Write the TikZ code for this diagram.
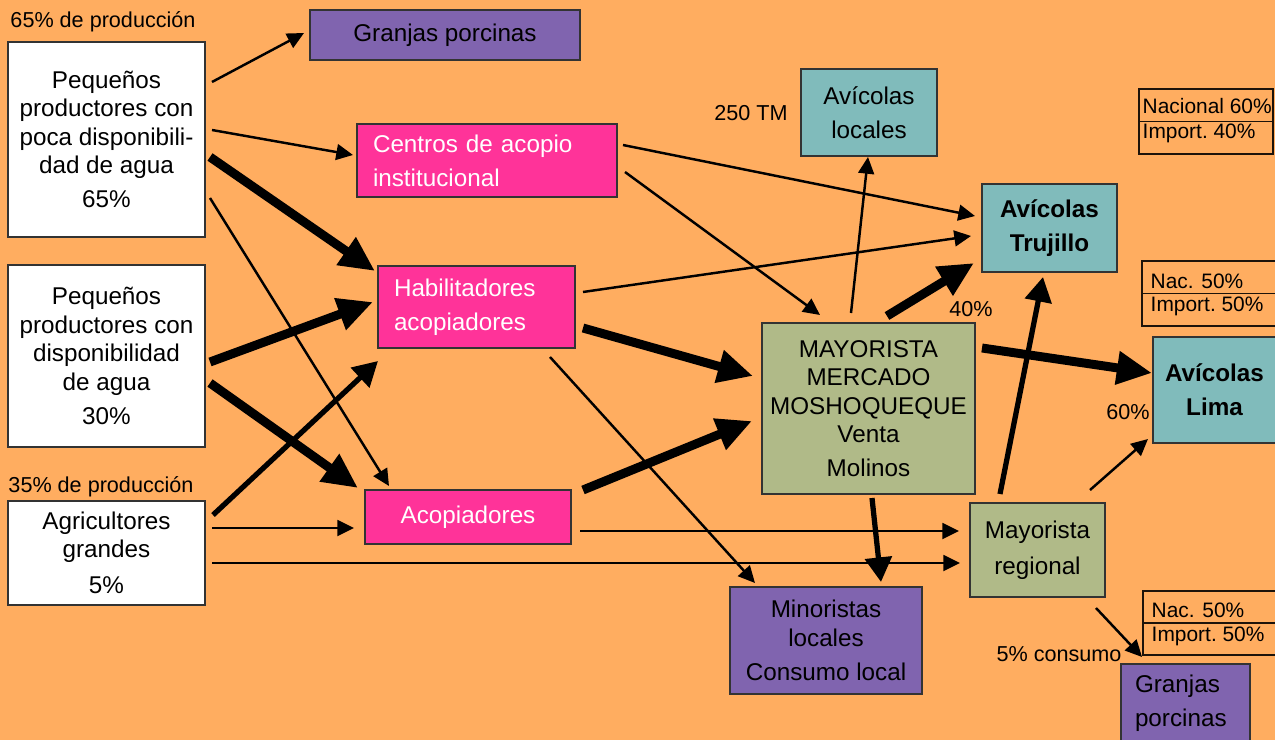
\documentclass[tikz,border=0pt]{standalone}
\usepackage{fontspec}
\setmainfont{Liberation Sans}
\usetikzlibrary{arrows.meta,calc}
\definecolor{fondo}{HTML}{FFAD60}
\definecolor{lila}{HTML}{8064AF}
\definecolor{rosa}{HTML}{FF3399}
\definecolor{turq}{HTML}{80BBBB}
\definecolor{oliva}{HTML}{B0BA88}
\definecolor{borde}{HTML}{333333}

\begin{document}
\begin{tikzpicture}[x=0.02cm,y=-0.02cm,
  box/.style={draw=borde, line width=0.7pt, inner sep=0pt, align=center,
    font=\fontsize{13.8}{16.2}\selectfont},
  sz/.style 2 args={minimum width=#1*0.02cm, minimum height=#2*0.02cm},
  lft/.style 2 args={text width=#1*0.02cm, inner xsep=#2*0.02cm, align=left},
  lbl/.style={inner sep=0pt, font=\fontsize{12.3}{14}\selectfont},
  tlbl/.style={inner sep=0pt, anchor=west, font=\fontsize{11.9}{14}\selectfont},
  tbl/.style={draw=black!85!brown, line width=0.7pt, inner sep=0pt},
  fino/.style={-{Triangle[length=9.5pt,width=9pt]}, line width=1.4pt},
  medio/.style={-{Triangle[length=14pt,width=15pt]}, line width=3pt},
  grueso/.style={-{Triangle[length=20pt,width=18pt]}, line width=5.1pt},
]
\path[use as bounding box, fill=fondo] (0,0) rectangle (1275,740);
\clip (0,0) rectangle (1275,740);

% producers
\node[box, sz={197}{195}, fill=white] (poca) at (106.5,139.5)
  {Pequeños\\productores con\\poca disponibili-\\dad de agua\\[3.1pt]65\%};
\node[box, sz={197}{182}, fill=white] (disp) at (106.5,356)
  {Pequeños\\productores con\\disponibilidad\\de agua\\[3.1pt]30\%};
\node[box, sz={197}{104}, fill=white] (agri) at (106.5,553)
  {Agricultores\\grandes\\[4.3pt]5\%};
\node[lbl] (lbl65) at (103,22) {65\% de producción};
\node[lbl] (lbl35) at (101,487) {35\% de producción};

% intermediaries
\node[box, sz={270}{50}, fill=lila] (granja1) at (445,35) {Granjas porcinas};
\node[box, sz={260}{73}, lft={228}{16}, fill=rosa, text=white] (centros) at (487,160.5)
  {Centros de acopio\\[3.1pt]institucional};
\node[box, sz={197}{82}, lft={165}{16}, fill=rosa, text=white] (habil) at (476.5,307)
  {Habilitadores\\[3.1pt]acopiadores};
\node[box, sz={206}{54}, fill=rosa, text=white] (acop) at (468,517) {Acopiadores};

% buyers
\node[box, sz={136}{87}, fill=turq] (avloc) at (869,112.5) {Avícolas\\[3.1pt]locales};
\node[box, sz={135}{88}, fill=turq, font=\fontsize{13.8}{16.2}\selectfont\bfseries] (truj) at (1049.5,228)
  {Avícolas\\[3.1pt]Trujillo};
\node[box, sz={213}{171}, fill=oliva] (mayor) at (868.5,408.5)
  {MAYORISTA\\MERCADO\\MOSHOQUEQUE\\Venta\\[3.1pt]Molinos};
\node[box, sz={135}{94}, fill=oliva] (regional) at (1037.5,550) {Mayorista\\[4pt]regional};
\node[box, sz={123}{106}, fill=turq, font=\fontsize{13.8}{16.2}\selectfont\bfseries] (lima) at (1214.5,390)
  {Avícolas\\[3.4pt]Lima};
\node[box, sz={192}{107}, fill=lila] (minor) at (826,640.5)
  {Minoristas\\locales\\[3.4pt]Consumo local};
\node[box, sz={129}{79}, lft={101}{14}, fill=lila] (granja2) at (1185.5,703.5)
  {Granjas\\[3.4pt]porcinas};

% origin tables
\node[tbl, sz={134}{65}] (t1) at (1206,121.5) {};
\draw[tbl] (t1.west) -- (t1.east);
\node[tlbl] (t1a) at ($(t1.west)+(4,-15.5)$) {Nacional 60\%};
\node[tlbl] (t1b) at ($(t1.west)+(4,12)$) {Import.\ 40\%};
\node[tbl, sz={134}{65}] (t2) at (1209,293.5) {};
\draw[tbl] (t2.west) -- (t2.east);
\node[tlbl] (t2a) at ($(t2.west)+(9,-12.5)$) {Nac. 50\%};
\node[tlbl] (t2b) at ($(t2.west)+(9,12.5)$) {Import.\ 50\%};
\node[tbl, sz={133}{64}] (t3) at (1209.5,623) {};
\draw[tbl] (t3.west) -- (t3.east);
\node[tlbl] (t3a) at ($(t3.west)+(9,-13)$) {Nac. 50\%};
\node[tlbl] (t3b) at ($(t3.west)+(9,13)$) {Import.\ 50\%};

% labels
\node[lbl] (lbl250) at (751,113) {250 TM};
\node[lbl] (lbl40) at (971,309) {40\%};
\node[lbl] (lbl60) at (1128,412) {60\%};
\node[lbl] (lbl5) at (1059,654) {5\% consumo};

% flows
\draw[fino]   ($(poca)+(105.5,-57.5)$) -- ($(granja1)+(-141,-2)$);
\draw[fino]   ($(poca)+(105.5,-9.5)$)  -- ($(centros)+(-134,-5.5)$);
\draw[grueso] ($(poca)+(103.5,17.5)$)  -- ($(habil)+(-101.5,-36)$);
\draw[fino]   ($(poca)+(103.5,58.5)$)  -- ($(acop)+(-79,-31)$);
\draw[grueso] ($(disp)+(103.5,6)$)     -- ($(habil)+(-103.5,-5)$);
\draw[grueso] ($(disp)+(103.5,27)$)    -- ($(acop)+(-110,-29)$);
\draw[medio]  ($(agri)+(106.5,-38)$)   -- ($(habil)+(-98.5,54)$);
\draw[fino]   ($(agri)+(105.5,-25)$)   -- ($(acop)+(-114,11)$);
\draw[fino]   ($(agri)+(105.5,10)$)    -- ($(regional)+(-77.5,13)$);
\draw[fino]   ($(centros)+(136,-15.5)$) -- ($(truj)+(-74.5,-12)$);
\draw[fino]   ($(centros)+(138,11.5)$)  -- ($(mayor)+(-48.5,-93.5)$);
\draw[fino]   ($(habil)+(106.5,-15)$)  -- ($(truj)+(-78.5,8)$);
\draw[grueso] ($(habil)+(106.5,21)$)   -- ($(mayor)+(-115.5,-32.5)$);
\draw[fino]   ($(habil)+(73.5,50)$)    -- ($(minor)+(-71,-57.5)$);
\draw[grueso] ($(acop)+(115,-27)$)     -- ($(mayor)+(-116.5,12.5)$);
\draw[fino]   ($(acop)+(112,14)$)      -- ($(regional)+(-78.5,-19)$);
\draw[fino]   ($(mayor)+(-17.5,-95.5)$) -- ($(avloc)+(-1,44.5)$);
\draw[grueso] ($(mayor)+(18.5,-92.5)$) -- ($(truj)+(-75.5,35)$);
\draw[grueso] ($(mayor)+(113.5,-60.5)$) -- ($(lima)+(-62.5,-17)$);
\draw[medio]  ($(mayor)+(3.5,89.5)$)   -- ($(minor)+(55,-58.5)$);
\draw[medio]  ($(regional)+(-37.5,-56)$) -- ($(truj)+(-6.5,49)$);
\draw[fino]   ($(regional)+(52.5,-60)$) -- ($(lima)+(-66.5,49)$);
\draw[fino]   ($(regional)+(58.5,58)$) -- ($(granja2)+(-43.5,-46.5)$);
\end{tikzpicture}
\end{document}
